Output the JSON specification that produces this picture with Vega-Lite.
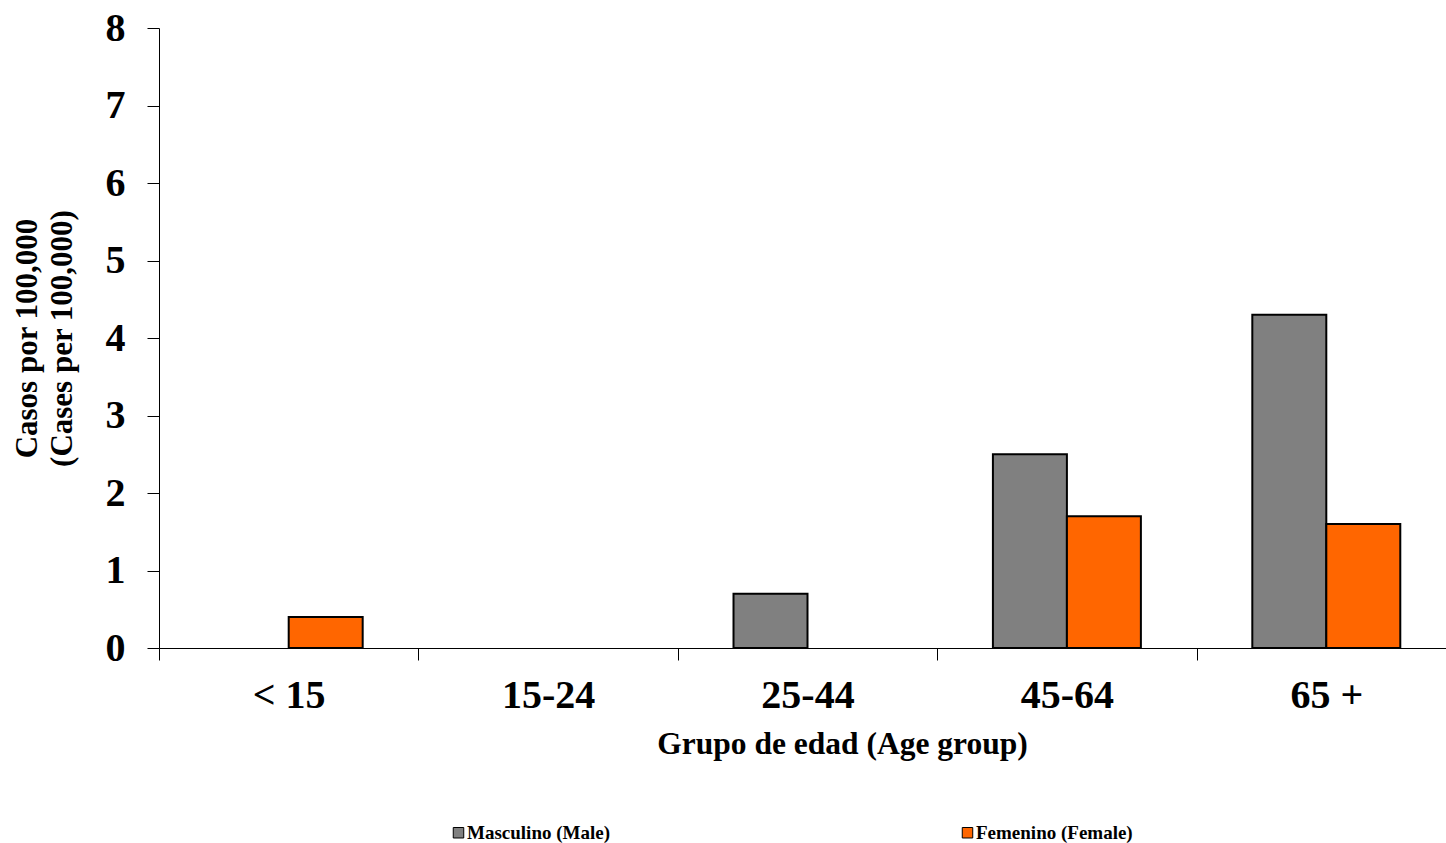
{
  "$schema": "https://vega.github.io/schema/vega-lite/v6.json",
  "autosize": "none",
  "width": 1297,
  "height": 620,
  "padding": {"left": 159, "top": 28, "right": 0, "bottom": 195},
  "background": "white",
  "config": {"view": {"stroke": null}, "font": "Liberation Serif"},
  "data": {
    "values": [
      {"age": "< 15", "sex": "Femenino (Female)", "rate": 0.4},
      {"age": "25-44", "sex": "Masculino (Male)", "rate": 0.7},
      {"age": "45-64", "sex": "Masculino (Male)", "rate": 2.5},
      {"age": "45-64", "sex": "Femenino (Female)", "rate": 1.7},
      {"age": "65 +", "sex": "Masculino (Male)", "rate": 4.3},
      {"age": "65 +", "sex": "Femenino (Female)", "rate": 1.6}
    ]
  },
  "mark": {"type": "bar", "stroke": "black", "strokeWidth": 2},
  "encoding": {
    "x": {
      "field": "age", "type": "nominal",
      "scale": {"domain": ["< 15", "15-24", "25-44", "45-64", "65 +"], "paddingInner": 0, "paddingOuter": 0},
      "axis": {
        "title": "Grupo de edad (Age group)",
        "titleFont": "Liberation Serif", "titleFontSize": 31.5, "titleFontWeight": "bold", "titleColor": "black",
        "titleX": 683, "titlePadding": 13,
        "labelFont": "Liberation Serif", "labelFontSize": 40, "labelFontWeight": "bold", "labelColor": "black",
        "labelAngle": 0, "labelPadding": 15,
        "tickBand": "extent", "tickSize": 12, "tickColor": "black", "domainColor": "black"
      }
    },
    "xOffset": {
      "field": "sex", "type": "nominal",
      "scale": {"domain": ["Masculino (Male)", "Femenino (Female)"], "paddingInner": 0, "paddingOuter": 0.753}
    },
    "y": {
      "field": "rate", "type": "quantitative",
      "scale": {"domain": [0, 8], "nice": false},
      "axis": {
        "title": ["Casos por 100,000", "(Cases per 100,000)"],
        "titleFont": "Liberation Serif", "titleFontSize": 31, "titleFontWeight": "bold", "titleColor": "black",
        "titleLineHeight": 35, "titlePadding": 27,
        "labelFont": "Liberation Serif", "labelFontSize": 40, "labelFontWeight": "bold", "labelColor": "black",
        "labelPadding": 22, "values": [0, 1, 2, 3, 4, 5, 6, 7, 8],
        "labelOverlap": false, "labelBound": false,
        "grid": false, "tickSize": 12, "tickColor": "black", "domainColor": "black"
      }
    },
    "color": {
      "field": "sex", "type": "nominal",
      "scale": {"domain": ["Masculino (Male)", "Femenino (Female)"], "range": ["#808080", "#FF6600"]},
      "legend": {
        "title": null, "orient": "none", "direction": "horizontal", "columns": 2,
        "legendX": 290, "legendY": 795, "padding": 0,
        "columnPadding": 347,
        "symbolType": "square", "symbolSize": 110, "symbolStrokeColor": "black", "symbolStrokeWidth": 1,
        "symbolOpacity": 1,
        "labelFont": "Liberation Serif", "labelFontSize": 19, "labelFontWeight": "bold", "labelColor": "black",
        "labelOffset": -1
      }
    }
  }
}
